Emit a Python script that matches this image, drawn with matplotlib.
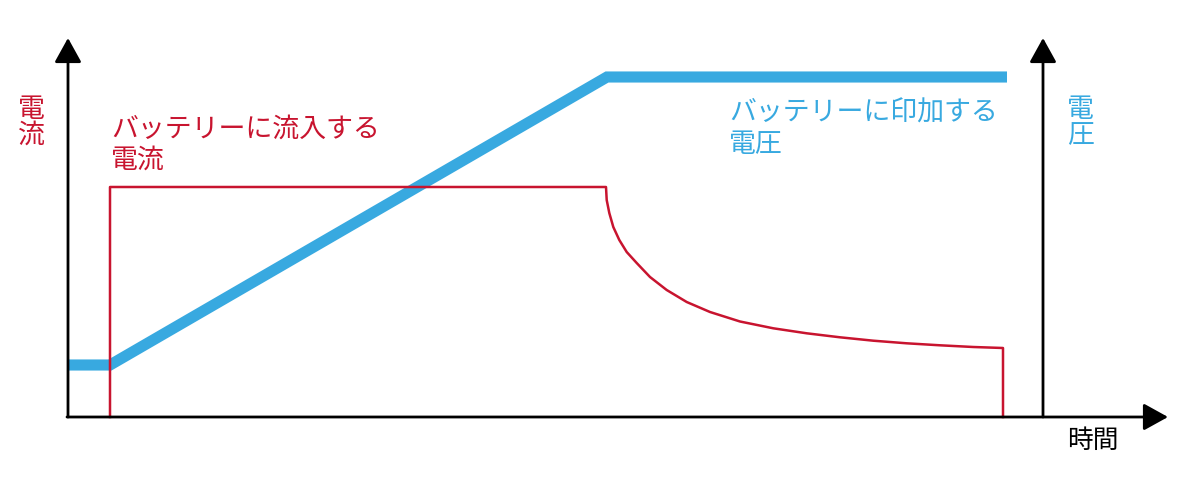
import matplotlib
matplotlib.use("Agg")
import matplotlib.pyplot as plt

plt.rcParams['font.family'] = ['Noto Sans CJK JP', 'DejaVu Sans']

# ---- data (time in arbitrary units, values in arbitrary units) ----
voltage_t = [0.0, 0.42, 5.39, 9.39]
voltage_v = [0.52, 0.52, 3.40, 3.40]

current_t = [0.42, 0.42, 5.38, 5.387, 5.413, 5.453, 5.513, 5.587, 5.687, 5.82,
             5.987, 6.187, 6.42, 6.72, 7.053, 7.387, 7.72, 8.053, 8.387, 8.72,
             9.053, 9.35, 9.35]
current_i = [0.0, 2.30, 2.30, 2.17, 2.04, 1.90, 1.77, 1.65, 1.54, 1.40,
             1.27, 1.15, 1.05, 0.955, 0.887, 0.837, 0.797, 0.763, 0.737, 0.717,
             0.70, 0.69, 0.0]

axis_top = 3.79
time_axis_end = 11.0
right_axis_t = 9.75

label_current = "電\n流"
label_voltage = "電\n圧"
label_time = "時間"
note_current = "バッテリーに流入する\n電流"
note_voltage = "バッテリーに印加する\n電圧"

RED = "#C8142F"
BLUE = "#38A9E0"

fig = plt.figure(figsize=(12, 4.82), dpi=100)
ax = fig.add_axes([0, 0, 1, 1])
ax.set_xlim(-0.68, 11.32)
ax.set_ylim(-0.65, 4.17)
ax.axis('off')

# curves
ax.plot(voltage_t, voltage_v, color=BLUE, lw=8.0, solid_joinstyle='miter',
        solid_capstyle='butt', zorder=2)
ax.plot(current_t, current_i, color=RED, lw=1.8, solid_joinstyle='round',
        zorder=3)

# axes arrows
arrow_kw = dict(arrowstyle='-|>,head_length=15,head_width=8.3', color='black',
                lw=2.0, shrinkA=0, shrinkB=0, mutation_scale=1)
ax.annotate('', xy=(0, axis_top), xytext=(0, 0), arrowprops=arrow_kw, zorder=4)
ax.annotate('', xy=(right_axis_t, axis_top), xytext=(right_axis_t, 0),
            arrowprops=arrow_kw, zorder=4)
ax.annotate('', xy=(time_axis_end, 0), xytext=(-0.01, 0), arrowprops=arrow_kw,
            zorder=4)

fs = 19.4
ax.text(-0.37, 3.21, label_current, color=RED, fontsize=fs, ha='center',
        va='top', linespacing=0.95)
ax.text(10.12, 3.21, label_voltage, color=BLUE, fontsize=fs, ha='center',
        va='top', linespacing=0.95)
ax.text(10.25, -0.11, label_time, color='black', fontsize=18.5, ha='center',
        va='top')
ax.text(0.43, 3.01, note_current, color=RED, fontsize=fs, ha='left', va='top',
        linespacing=1.17)
ax.text(6.61, 3.17, note_voltage, color=BLUE, fontsize=fs, ha='left', va='top',
        linespacing=1.17)

fig.savefig("out.png", dpi=100)
